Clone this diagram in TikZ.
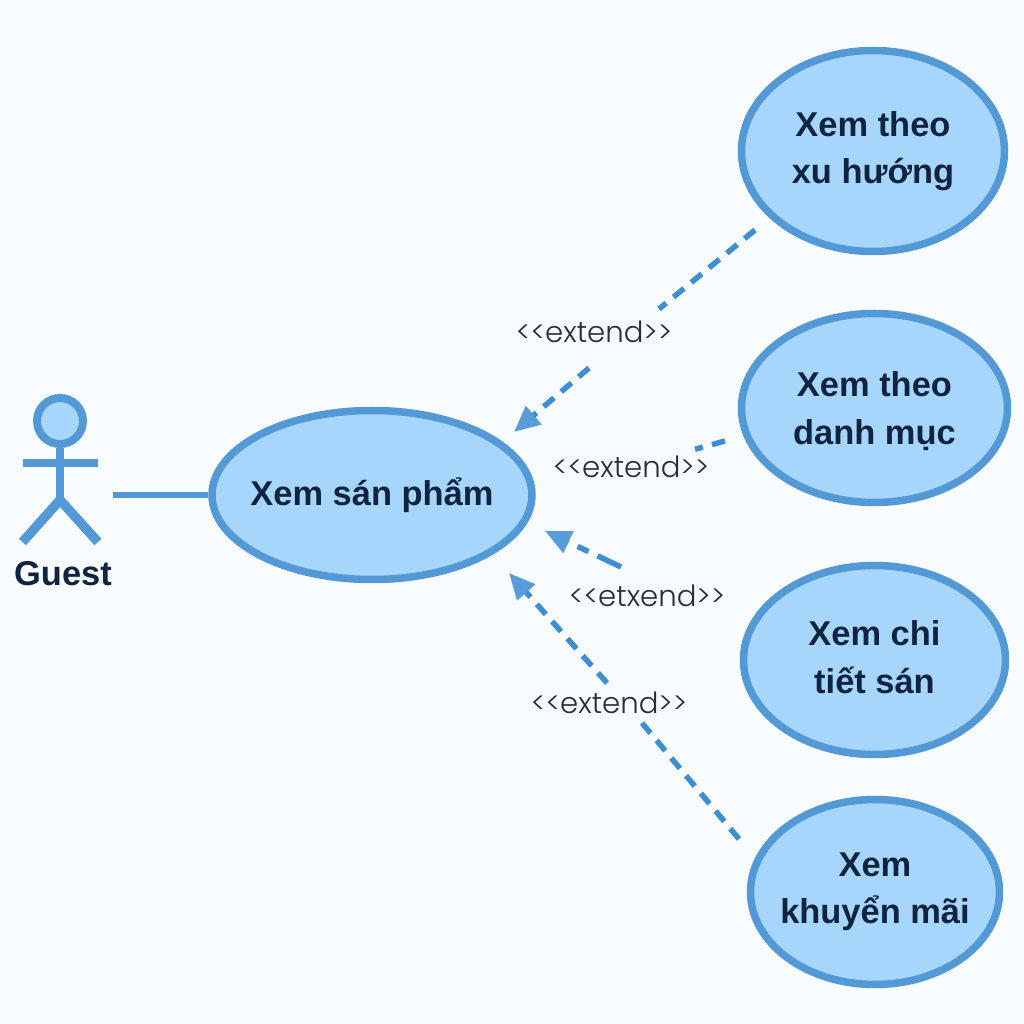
\documentclass[tikz,border=0pt]{standalone}
\usepackage{fontspec}
\setmainfont{Liberation Sans}
\newfontfamily\labelfont[UprightFont=* Light]{Poppins}
\usetikzlibrary{arrows.meta,shapes.geometric}
\definecolor{pagebg}{RGB}{248,252,255}
\definecolor{casefill}{RGB}{166,214,252}
\definecolor{caseline}{RGB}{82,153,214}
\definecolor{depline}{RGB}{62,142,212}
\definecolor{headfill}{RGB}{88,156,217}
\definecolor{inktext}{RGB}{16,35,63}
\definecolor{labeltext}{RGB}{40,44,52}
\tikzset{
  usecase/.style={
    ellipse,
    draw=caseline,
    line width=0.075cm,
    fill=casefill,
    align=center,
    inner xsep=-0.1cm,
    inner ysep=0pt,
    text=inktext,
    font=\fontsize{9.8}{13.4}\selectfont\bfseries
  },
  dep/.style={draw=depline, line width=0.055cm, dash pattern=on 0.135cm off 0.095cm},
  deparrow/.style={dep, -{Triangle[length=2.6mm,width=2.3mm,fill=headfill,color=headfill]}},
  deplabel/.style={fill=pagebg, inner sep=0pt, text=labeltext, font=\labelfont\fontsize{8.3}{10}\selectfont},
  limb/.style={draw=caseline, line width=0.085cm}
}
\begin{document}
\begin{tikzpicture}[x=1cm, y=1cm]
    \useasboundingbox[fill=pagebg] (0,0) rectangle (10.24,10.24);

    \node[usecase, minimum width=3.2cm, minimum height=1.69cm] (view) at (3.72,5.29) {Xem sán phẩm};
    \node[usecase, minimum width=2.63cm, minimum height=2.01cm] (trend) at (8.73,8.73) {Xem theo\\xu hướng};
    \node[usecase, minimum width=2.66cm, minimum height=1.89cm, text depth=0pt] (categ) at (8.745,6.16) {Xem theo\\danh mục};
    \node[usecase, minimum width=2.62cm, minimum height=1.89cm, text depth=1.7pt] (detail) at (8.745,3.64) {Xem chi\\tiết sán};
    \node[usecase, minimum width=2.49cm, minimum height=1.85cm] (promo) at (8.75,1.32) {Xem\\khuyển mãi};

    % actor
    \node[circle, draw=caseline, line width=0.08cm, fill=casefill, minimum size=0.46cm, inner sep=0pt] (head) at (0.60,6.03) {};
    \coordinate (hip) at (0.60,5.24);
    \coordinate (armL) at (0.23,5.61);
    \coordinate (armR) at (0.98,5.61);
    \coordinate (footL) at (0.225,4.82);
    \coordinate (footR) at (0.98,4.82);
    \draw[limb] (head.south) -- (hip);
    \draw[limb] (armL) -- (armR);
    \draw[limb, line width=0.095cm] (footL) -- (hip) -- (footR);
    \node[font=\fontsize{9.8}{11}\selectfont\bfseries, text=inktext, inner sep=0pt] (guest) at (0.63,4.50) {Guest};

    \coordinate (hand) at (1.13,5.29);
    \draw[draw=caseline, line width=0.055cm] (hand) -- (view.west);

    \coordinate (trendA) at (7.55,7.94);
    \coordinate (trendC) at (6.59,7.15);
    \coordinate (trendD) at (5.89,6.56);
    \coordinate (trendB) at (5.14,5.92);
    \coordinate (categA) at (7.25,5.83);
    \coordinate (detailA) at (6.21,4.57);
    \coordinate (detailB) at (5.45,4.93);
    \coordinate (promoA) at (7.39,1.85);
    \coordinate (promoC) at (6.42,3.01);
    \coordinate (promoD) at (6.07,3.41);
    \coordinate (promoB) at (5.09,4.51);

    \node[deplabel] (lbltrend) at (5.94,6.92) {<<extend>>};
    \node[deplabel, minimum height=0.34cm] (lblcateg) at (6.31,5.57) {<<extend>>};
    \node[deplabel] (lbldetail) at (6.47,4.28) {<<etxend>>};
    \node[deplabel] (lblpromo) at (6.09,3.21) {<<extend>>};

    \draw[dep] (trendA) -- (trendC);
    \draw[deparrow] (trendD) -- (trendB);
    \draw[dep] (categA) -- (lblcateg);
    \draw[deparrow, dash pattern=on 0.26cm off 0.1cm on 0.12cm off 0.1cm] (detailA) -- (detailB);
    \draw[dep] (promoA) -- (promoC);
    \draw[deparrow] (promoD) -- (promoB);
\end{tikzpicture}
\end{document}
